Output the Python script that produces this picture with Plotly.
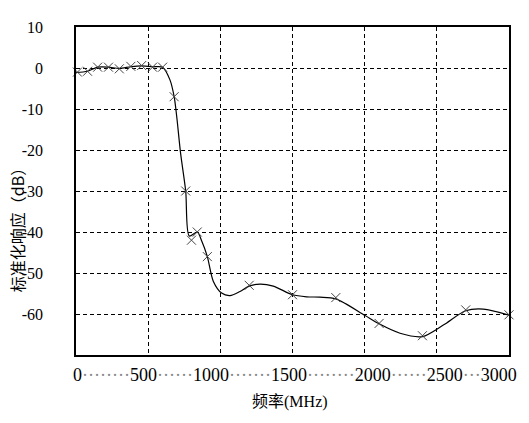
import plotly.graph_objects as go

# measured points (the x markers), frequency in MHz and response in dB
freq = [10, 80, 150, 225, 300, 380, 455, 530, 600, 680, 760, 800, 840, 910,
        1200, 1500, 1800, 2100, 2400, 2700, 3000]
resp = [-1.0, -0.8, 0.2, 0.2, -0.2, 0.4, 0.6, 0.2, 0.2, -7.0, -30.0, -42.0, -40.0, -46.0,
        -53.0, -55.3, -56.0, -62.3, -65.3, -59.0, -60.2]

# the smoothed curve
curve_f = [0, 80, 150, 225, 300, 380, 455, 530, 600, 651, 680, 698, 725, 760, 785, 840,
           871, 910, 951, 1009, 1067, 1136, 1200, 1275, 1367, 1500, 1598, 1690, 1800,
           2000, 2100, 2245, 2400, 2545, 2700, 2822, 3000]
curve_db = [-1.1, -0.8, 0.2, 0.2, -0.1, 0.3, 0.5, 0.3, 0.2, -2.9, -7.0, -11.9, -20.9, -30.0,
            -41.0, -40.0, -42.2, -46.0, -52.0, -54.9, -55.5, -54.5, -53.2, -52.7, -53.2,
            -55.3, -55.8, -55.9, -56.3, -60.3, -62.4, -64.7, -65.5, -62.7, -59.2, -58.8, -60.3]

y_ticks = [10, 0, -10, -20, -30, -40, -50, -60]
x_grid = [0, 500, 1000, 1500, 2000, 2500, 3000]

# the x labels in the source are one text line with dotted leaders
x_labels = ["0", "500", "1000", "1500", "2000", "2500", "3000"]
leader_dots = [8, 6, 7, 8, 6, 3]

serif = "Liberation Serif"
cjk = "Noto Sans CJK SC"

fig = go.Figure()

fig.add_trace(go.Scatter(
    x=curve_f, y=curve_db, mode="lines",
    line=dict(color="black", width=1.2, shape="spline", smoothing=0.8),
    showlegend=False, hoverinfo="skip"))

fig.add_trace(go.Scatter(
    x=freq, y=resp, mode="markers",
    marker=dict(symbol="x-thin", size=9, line=dict(color="#444", width=1)),
    cliponaxis=False, showlegend=False))

x_text = ""
for i, lab in enumerate(x_labels):
    x_text += lab
    if i < len(leader_dots):
        x_text += "<span style='color:#888'>" + "·" * leader_dots[i] + "</span>"

fig.add_annotation(text=x_text, xref="paper", yref="paper", x=0.505, y=-0.061,
                   xanchor="center", yanchor="middle", showarrow=False,
                   font=dict(family=serif, size=18, color="black"))

fig.add_annotation(text="频率<span style='font-family:Liberation Serif'>(MHz)</span>",
                   xref="paper", yref="paper", x=0.494, y=-0.137,
                   xanchor="center", yanchor="middle", showarrow=False,
                   font=dict(family=cjk, size=16, color="black"))

fig.add_annotation(text="标准化响应（dB）", textangle=-90,
                   xref="paper", yref="paper", x=-0.136, y=0.393,
                   xanchor="center", yanchor="middle", showarrow=False,
                   font=dict(family=cjk, size=16, color="black"))

fig.update_xaxes(range=[0, 3000], tickvals=x_grid, showticklabels=False,
                 showgrid=True, gridcolor="black", gridwidth=1, griddash="4px,3px",
                 showline=True, linecolor="black", linewidth=1.5, mirror=True,
                 zeroline=False, ticks="")
fig.update_yaxes(range=[-70, 10], tickvals=y_ticks, ticktext=[str(v) for v in y_ticks],
                 showgrid=True, gridcolor="black", gridwidth=1, griddash="4px,3px",
                 showline=True, linecolor="black", linewidth=1.5, mirror=True,
                 zeroline=False, ticks="", ticklabelstandoff=28,
                 tickfont=dict(family=serif, size=16, color="black"))

fig.update_layout(width=529, height=423, plot_bgcolor="white", paper_bgcolor="white",
                  margin=dict(l=76, r=20, t=27, b=68))

fig.write_html("out.html", config={"displayModeBar": False},
               post_script="document.body.style.margin='0';")
